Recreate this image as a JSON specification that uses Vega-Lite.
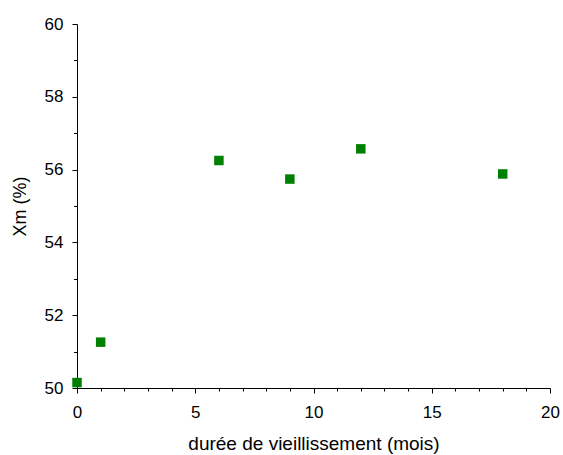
{
  "$schema": "https://vega.github.io/schema/vega-lite/v6.json",
  "autosize": {"type": "none"},
  "padding": {"left": 77, "top": 24, "right": 13, "bottom": 67},
  "width": 473,
  "height": 364,
  "background": "white",
  "config": {
    "view": {"stroke": null},
    "font": "Liberation Sans"
  },
  "data": {
    "values": [
      {"mois": 0, "xm": 50.15},
      {"mois": 1, "xm": 51.26},
      {"mois": 6, "xm": 56.25},
      {"mois": 9, "xm": 55.74},
      {"mois": 12, "xm": 56.57},
      {"mois": 18, "xm": 55.88}
    ]
  },
  "mark": {"type": "point", "shape": "square", "filled": true, "size": 90, "color": "#008000", "opacity": 1},
  "encoding": {
    "x": {
      "field": "mois",
      "type": "quantitative",
      "scale": {"domain": [0, 20], "nice": false, "zero": false},
      "axis": {
        "title": "durée de vieillissement (mois)",
        "values": [0,1,2,3,4,5,6,7,8,9,10,11,12,13,14,15,16,17,18,19,20],
        "labelExpr": "datum.value % 5 === 0 ? datum.label : ''",
        "grid": false,
        "domainColor": "#000000",
        "tickColor": "#000000",
        "tickSize": {"condition": {"test": "datum.value % 5 === 0", "value": 5}, "value": 3},
        "labelFont": "Liberation Sans",
        "labelFontSize": 17,
        "labelColor": "#000000",
        "labelPadding": 11,
        "labelFlush": false,
        "labelOverlap": false,
        "titleFont": "Liberation Sans",
        "titleFontSize": 19,
        "titleFontWeight": "normal",
        "titleColor": "#000000",
        "titlePadding": 14
      }
    },
    "y": {
      "field": "xm",
      "type": "quantitative",
      "scale": {"domain": [50, 60], "nice": false, "zero": false},
      "axis": {
        "title": "Xm (%)",
        "values": [50,51,52,53,54,55,56,57,58,59,60],
        "labelExpr": "datum.value % 2 === 0 ? datum.label : ''",
        "grid": false,
        "domainColor": "#000000",
        "tickColor": "#000000",
        "tickSize": {"condition": {"test": "datum.value % 2 === 0", "value": 5}, "value": 3.5},
        "labelFont": "Liberation Sans",
        "labelFontSize": 17,
        "labelColor": "#000000",
        "labelPadding": 9,
        "labelFlush": false,
        "labelOverlap": false,
        "titleFont": "Liberation Sans",
        "titleFontSize": 18,
        "titleFontWeight": "normal",
        "titleColor": "#000000",
        "titlePadding": 15
      }
    }
  }
}
